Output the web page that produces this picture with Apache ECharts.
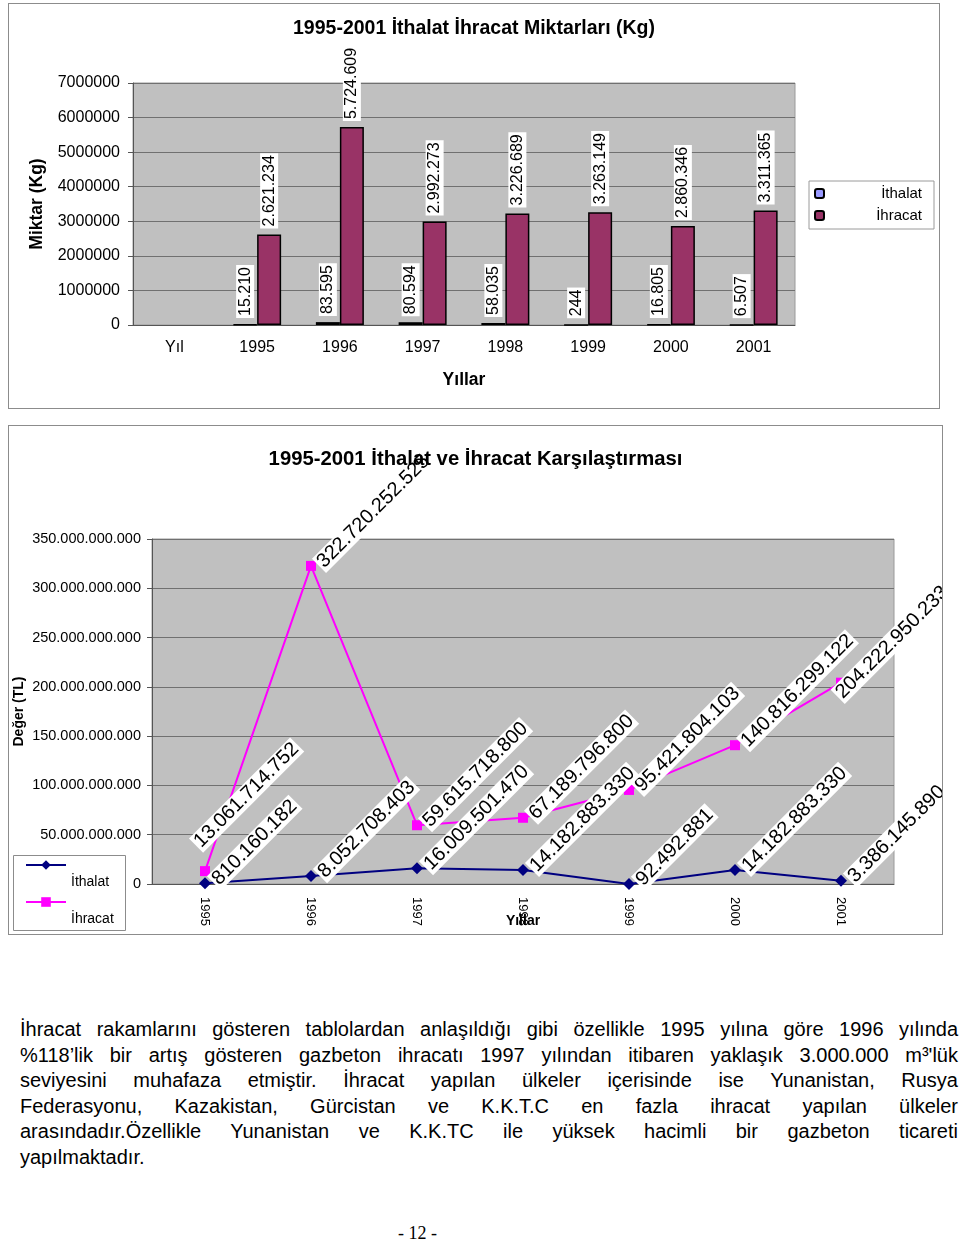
<!DOCTYPE html>
<html lang="tr">
  <head>
    <meta charset="UTF-8" />
    <title>İthalat İhracat</title>
    <script src="https://cdn.jsdelivr.net/npm/echarts@6/dist/echarts.min.js"></script>
  </head>
  <style>
    html,
    body {
      margin: 0;
      padding: 0;
      width: 960px;
      height: 1241px;
      background: #fff;
      position: relative;
      font-family: "Liberation Sans", Arial, sans-serif;
    }
    .box {
      position: absolute;
      border: 1px solid #8c8c8c;
    }
    #box1 {
      left: 8px;
      top: 3px;
      width: 930px;
      height: 404px;
    }
    #box2 {
      left: 8px;
      top: 425px;
      width: 933px;
      height: 508px;
    }
    .box > div {
      width: 100%;
      height: 100%;
    }
    .text {
      position: absolute;
      left: 20px;
      top: 1017px;
      width: 938px;
      font-size: 20px;
      line-height: 25.6px;
      color: #000;
    }
    .text div {
      text-align: justify;
      text-align-last: justify;
      white-space: nowrap;
    }
    .text div.last {
      text-align-last: left;
    }
    .page {
      position: absolute;
      left: 398px;
      top: 1223px;
      font-family: "Liberation Serif", "Times New Roman", serif;
      font-size: 18px;
    }
  </style>
  <body>
    <div class="box" id="box1"><div id="chart1"></div></div>
    <div class="box" id="box2"><div id="chart2"></div></div>
    <div class="text">
      <div>İhracat rakamlarını gösteren tablolardan anlaşıldığı gibi özellikle 1995 yılına göre 1996 yılında</div>
      <div>%118’lik bir artış gösteren gazbeton ihracatı 1997 yılından itibaren yaklaşık 3.000.000 m³'lük</div>
      <div>seviyesini muhafaza etmiştir. İhracat yapılan ülkeler içerisinde ise Yunanistan, Rusya</div>
      <div>Federasyonu, Kazakistan, Gürcistan ve K.K.T.C en fazla ihracat yapılan ülkeler</div>
      <div>arasındadır.Özellikle Yunanistan ve K.K.TC ile yüksek hacimli bir gazbeton ticareti</div>
      <div class="last">yapılmaktadır.</div>
    </div>
    <div class="page">- 12 -</div>
  </body>
  <script>
    // veriler
    const years = ["1995", "1996", "1997", "1998", "1999", "2000", "2001"];
    const kgCategories = ["Yıl", "1995", "1996", "1997", "1998", "1999", "2000", "2001"];
    const importKg = [null, 15210, 83595, 80594, 58035, 244, 16805, 6507];
    const exportKg = [null, 2621234, 5724609, 2992273, 3226689, 3263149, 2860346, 3311365];
    const importTL = [810160182, 8052708403, 16009501470, 14182883330, 92492881, 14182883330, 3386145890];
    const exportTL = [13061714752, 322720252525, 59615718800, 67189796800, 95421804103, 140816299122, 204222950233];

    const FONT = "Liberation Sans, Arial, sans-serif";
    const fmt = (v) => String(v).replace(/\B(?=(\d{3})+(?!\d))/g, ".");

    const chart1 = echarts.init(document.getElementById("chart1"));
    const barLabel = {
      show: true,
      position: "top",
      rotate: 90,
      align: "left",
      verticalAlign: "middle",
      distance: 6,
      fontSize: 16,
      fontFamily: FONT,
      color: "#000",
      backgroundColor: "#fff",
      padding: [1, 2],
      formatter: (p) => fmt(p.value),
    };
    chart1.setOption({
      animation: false,
      textStyle: { fontFamily: FONT },
      title: {
        text: "1995-2001 İthalat İhracat Miktarları (Kg)",
        left: "center",
        top: 15,
        padding: 0,
        textStyle: { fontSize: 19.5, fontWeight: "bold", color: "#000", fontFamily: FONT },
      },
      grid: {
        left: 124,
        top: 79,
        width: 662,
        height: 242,
        outerBoundsMode: "none",
        show: true,
        backgroundColor: "#c0c0c0",
        borderColor: "#9a9a9a",
        borderWidth: 1,
      },
      legend: {
        orient: "vertical",
        left: 800,
        top: 177,
        padding: [5, 12, 6, 5],
        itemGap: 7,
        itemWidth: 9,
        itemHeight: 9,
        backgroundColor: "#fff",
        borderColor: "#9a9a9a",
        borderWidth: 1,
        formatter: (name) => "{r|" + name + "}",
        textStyle: {
          fontSize: 15,
          color: "#000",
          rich: { r: { width: 93, align: "right", fontSize: 15, fontFamily: FONT } },
        },
        data: ["İthalat", "İhracat"],
      },
      xAxis: {
        type: "category",
        data: kgCategories,
        name: "Yıllar",
        nameLocation: "middle",
        nameGap: 46,
        nameMoveOverlap: false,
        nameTextStyle: { fontSize: 17.5, fontWeight: "bold", color: "#000" },
        axisLine: { lineStyle: { color: "#555" } },
        axisTick: { length: 5, lineStyle: { color: "#555" } },
        axisLabel: { fontSize: 16, color: "#000", margin: 15 },
      },
      yAxis: {
        type: "value",
        min: 0,
        max: 7000000,
        interval: 1000000,
        name: "Miktar (Kg)",
        nameLocation: "middle",
        nameGap: 87,
        nameMoveOverlap: false,
        nameTextStyle: { fontSize: 17.5, fontWeight: "bold", color: "#000" },
        axisLine: { show: true, lineStyle: { color: "#555" } },
        axisTick: { show: true, length: 5, lineStyle: { color: "#555" } },
        axisLabel: { fontSize: 16, color: "#000", margin: 13, formatter: (v) => String(v) },
        splitLine: { lineStyle: { color: "#707070" } },
      },
      series: [
        {
          name: "İthalat",
          type: "bar",
          data: importKg,
          barWidth: 24,
          barGap: "0%",
          itemStyle: { color: "#9999ff", borderColor: "#000", borderWidth: 1.5 },
          label: barLabel,
        },
        {
          name: "İhracat",
          type: "bar",
          data: exportKg,
          barWidth: 24,
          itemStyle: { color: "#993366", borderColor: "#000", borderWidth: 1.5 },
          label: barLabel,
        },
      ],
    });

    const chart2 = echarts.init(document.getElementById("chart2"));
    const lineLabel = {
      show: true,
      position: "right",
      rotate: 45,
      align: "left",
      verticalAlign: "middle",
      distance: 3,
      fontSize: 20,
      fontFamily: FONT,
      color: "#000",
      backgroundColor: "#fff",
      padding: [0, 2],
      formatter: (p) => fmt(p.value),
    };
    chart2.setOption({
      animation: false,
      textStyle: { fontFamily: FONT },
      title: {
        text: "1995-2001 İthalat ve İhracat Karşılaştırması",
        left: "center",
        top: 23,
        padding: 0,
        textStyle: { fontSize: 20.3, fontWeight: "bold", color: "#000", fontFamily: FONT },
      },
      grid: {
        left: 143,
        top: 113,
        width: 742,
        height: 345,
        outerBoundsMode: "none",
        show: true,
        backgroundColor: "#c0c0c0",
        borderColor: "#9a9a9a",
        borderWidth: 1,
      },
      graphic: [
        {
          type: "rect",
          left: 4,
          top: 429,
          shape: { width: 112, height: 75 },
          style: { fill: "#fff", stroke: "#8c8c8c", lineWidth: 1 },
          z: 0,
        },
      ],
      legend: {
        orient: "vertical",
        left: 16,
        top: 405,
        height: 160,
        padding: 0,
        itemGap: -31,
        itemWidth: 40,
        itemHeight: 12,
        z: 10,
        formatter: (name) => "\n" + name,
        textStyle: { fontSize: 14, color: "#000", lineHeight: 34 },
        data: ["İthalat", "İhracat"],
      },
      xAxis: {
        type: "category",
        data: years,
        name: "Yıllar",
        nameLocation: "middle",
        nameGap: 30,
        nameMoveOverlap: false,
        nameTextStyle: { fontSize: 14, fontWeight: "bold", color: "#000" },
        axisLine: { lineStyle: { color: "#555" } },
        axisTick: { length: 5, lineStyle: { color: "#555" } },
        axisLabel: { fontSize: 13, color: "#000", margin: 13, rotate: -90 },
      },
      yAxis: {
        type: "value",
        min: 0,
        max: 350000000000,
        interval: 50000000000,
        name: "Değer (TL)",
        nameLocation: "middle",
        nameGap: 126,
        nameMoveOverlap: false,
        nameTextStyle: { fontSize: 14, fontWeight: "bold", color: "#000" },
        axisLine: { show: true, lineStyle: { color: "#555" } },
        axisTick: { show: true, length: 5, lineStyle: { color: "#555" } },
        axisLabel: { fontSize: 14.5, color: "#000", margin: 11, formatter: (v) => fmt(v) },
        splitLine: { lineStyle: { color: "#707070" } },
      },
      series: [
        {
          name: "İthalat",
          type: "line",
          z: 3,
          data: importTL,
          symbol: "diamond",
          symbolSize: 12,
          lineStyle: { color: "#000080", width: 2 },
          itemStyle: { color: "#000080" },
          label: lineLabel,
        },
        {
          name: "İhracat",
          type: "line",
          z: 2,
          data: exportTL,
          symbol: "rect",
          symbolSize: 10,
          lineStyle: { color: "#ff00ff", width: 2 },
          itemStyle: { color: "#ff00ff" },
          label: lineLabel,
          // ilk ve son etiketler biraz kaydırıldı (çakışma / taşma)
          labelLayout: (p) => {
            if (p.dataIndex === 0) return { dx: 6, dy: -30 };
            if (p.dataIndex === exportTL.length - 1) return { dx: -18, dy: 2 };
            return {};
          },
        },
      ],
    });
  </script>
</html>
